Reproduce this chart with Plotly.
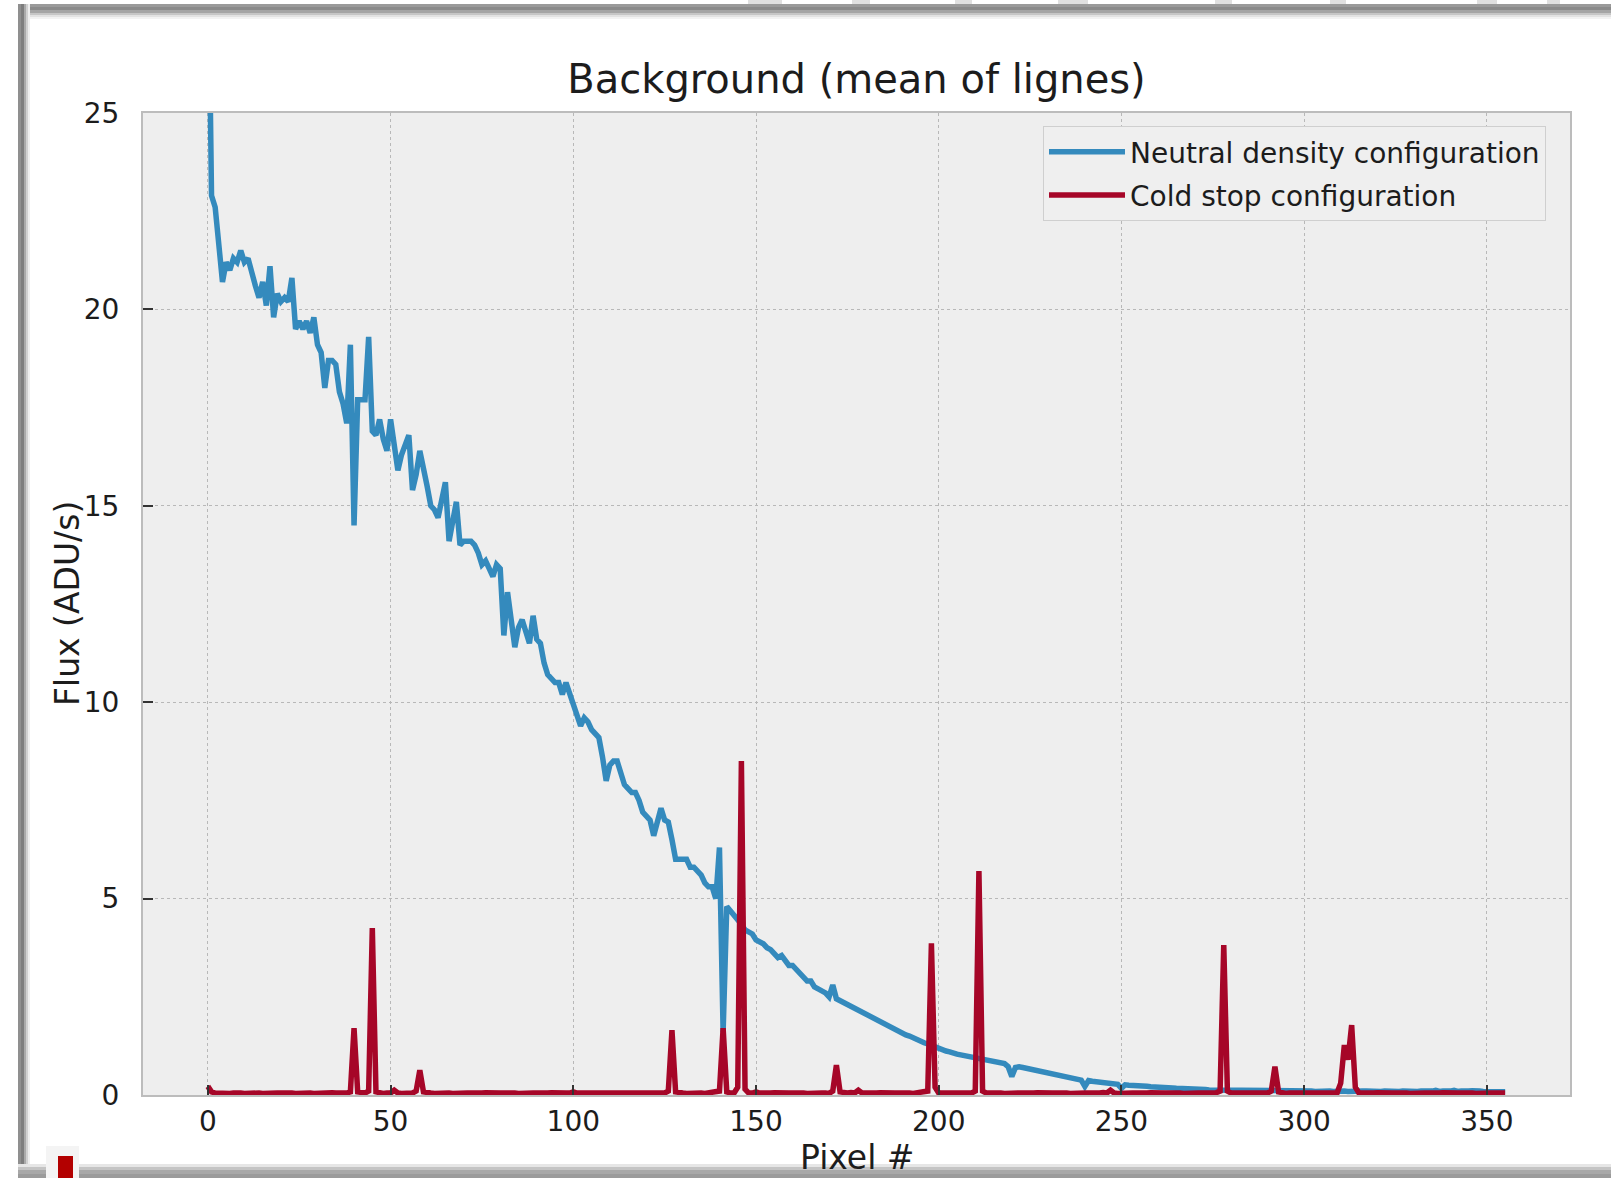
import plotly.graph_objects as go

# ---------------- data ----------------
neutral_density = [
    30.0, 22.9, 22.6, 21.6, 20.7, 21.2, 21.0, 21.3, 21.2, 21.5, 21.2, 21.3, 20.9, 20.6, 20.3, 20.7, 20.1, 21.1, 19.8, 20.4,
    20.2, 20.3, 20.2, 20.8, 19.5, 19.7, 19.5, 19.7, 19.4, 19.8, 19.1, 18.9, 18.0, 18.7, 18.7, 18.6, 17.9, 17.6, 17.1, 19.1,
    14.5, 17.7, 17.7, 17.7, 19.3, 16.9, 16.8, 17.2, 16.7, 16.4, 17.2, 16.6, 15.9, 16.3, 16.6, 16.8, 15.4, 15.8, 16.4, 16.0,
    15.5, 15.0, 14.9, 14.7, 15.1, 15.6, 14.1, 14.6, 15.1, 14.0, 14.1, 14.1, 14.1, 14.0, 13.8, 13.5, 13.6, 13.4, 13.2, 13.5,
    13.4, 11.7, 12.8, 12.1, 11.4, 11.9, 12.1, 11.8, 11.5, 12.2, 11.6, 11.5, 11.0, 10.7, 10.6, 10.5, 10.5, 10.2, 10.5, 10.2,
    10.0, 9.7, 9.4, 9.6, 9.5, 9.3, 9.2, 9.1, 8.6, 8.0, 8.4, 8.5, 8.5, 8.2, 7.9, 7.8, 7.7, 7.7, 7.5, 7.2,
    7.1, 7.0, 6.6, 6.9, 7.3, 7.0, 6.95, 6.5, 6.0, 6.0, 6.0, 6.0, 5.8, 5.8, 5.7, 5.6, 5.4, 5.3, 5.3, 5.0,
    6.3, 1.6, 4.8, 4.7, 4.55, 4.45, 4.35, 4.2, 4.15, 4.1, 3.95, 3.9, 3.85, 3.75, 3.7, 3.6, 3.5, 3.55, 3.4, 3.3,
    3.3, 3.2, 3.15, 3.0, 2.9, 2.9, 2.75, 2.7, 2.65, 2.6, 2.5, 2.8, 2.45, 2.4, 2.35, 2.3, 2.25, 2.2, 2.15, 2.1,
    2.05, 2.0, 1.95, 1.9, 1.85, 1.8, 1.75, 1.7, 1.67, 1.62, 1.58, 1.53, 1.5, 1.45, 1.4, 1.37, 1.33, 1.3, 1.26, 1.23,
    1.2, 1.17, 1.12, 1.1, 1.06, 1.04, 1.02, 1.0, 0.98, 0.96, 0.94, 0.92, 0.89, 0.87, 0.86, 0.84, 0.82, 0.81, 0.8, 0.72,
    0.47, 0.7, 0.72, 0.7, 0.68, 0.66, 0.64, 0.62, 0.6, 0.58, 0.57, 0.55, 0.53, 0.51, 0.5, 0.48, 0.46, 0.44, 0.42, 0.38,
    0.22, 0.37, 0.35, 0.34, 0.32, 0.31, 0.3, 0.29, 0.28, 0.27, 0.17, 0.26, 0.25, 0.25, 0.24, 0.23, 0.22, 0.22, 0.21, 0.21,
    0.2, 0.2, 0.19, 0.18, 0.18, 0.17, 0.17, 0.16, 0.16, 0.15, 0.15, 0.14, 0.14, 0.14, 0.13, 0.13, 0.13, 0.12, 0.12, 0.12,
    0.12, 0.11, 0.12, 0.11, 0.11, 0.12, 0.11, 0.1, 0.11, 0.11, 0.1, 0.11, 0.1, 0.11, 0.1, 0.1, 0.11, 0.1, 0.1, 0.1,
    0.11, 0.1, 0.1, 0.09, 0.1, 0.1, 0.11, 0.1, 0.09, 0.1, 0.1, 0.1, 0.09, 0.1, 0.1, 0.09, 0.1, 0.1, 0.09, 0.1,
    0.1, 0.09, 0.1, 0.09, 0.1, 0.1, 0.09, 0.1, 0.09, 0.09, 0.1, 0.09, 0.1, 0.09, 0.09, 0.1, 0.12, 0.09, 0.1, 0.09,
    0.1, 0.12, 0.09, 0.1, 0.09, 0.1, 0.11, 0.09, 0.1, 0.09, 0.09, 0.1, 0.09, 0.09, 0.08, 0.08,
]

cold_stop = [
    0.22, 0.08, 0.05, 0.04, 0.05, 0.05, 0.04, 0.05, 0.06, 0.05, 0.04, 0.05, 0.05, 0.06, 0.05, 0.04, 0.05, 0.05, 0.04, 0.05,
    0.05, 0.06, 0.05, 0.05, 0.04, 0.05, 0.05, 0.06, 0.05, 0.04, 0.05, 0.05, 0.04, 0.05, 0.06, 0.05, 0.04, 0.05, 0.05, 0.08,
    1.70, 0.08, 0.05, 0.05, 0.10, 4.25, 0.08, 0.05, 0.04, 0.05, 0.05, 0.12, 0.05, 0.04, 0.05, 0.05, 0.05, 0.10, 0.63, 0.08,
    0.05, 0.05, 0.04, 0.05, 0.06, 0.05, 0.05, 0.04, 0.05, 0.05, 0.06, 0.05, 0.05, 0.04, 0.05, 0.05, 0.06, 0.05, 0.05, 0.04,
    0.05, 0.05, 0.06, 0.05, 0.05, 0.04, 0.05, 0.05, 0.06, 0.05, 0.05, 0.04, 0.05, 0.05, 0.06, 0.05, 0.05, 0.04, 0.05, 0.05,
    0.08, 0.05, 0.05, 0.06, 0.05, 0.04, 0.05, 0.05, 0.06, 0.05, 0.05, 0.04, 0.05, 0.05, 0.06, 0.05, 0.04, 0.05, 0.05, 0.05,
    0.06, 0.05, 0.05, 0.04, 0.05, 0.05, 0.10, 1.65, 0.08, 0.05, 0.05, 0.04, 0.05, 0.06, 0.05, 0.05, 0.04, 0.05, 0.05, 0.06,
    0.10, 1.70, 0.08, 0.05, 0.05, 0.20, 8.50, 0.15, 0.05, 0.05, 0.08, 0.05, 0.04, 0.05, 0.05, 0.06, 0.05, 0.05, 0.04, 0.05,
    0.05, 0.06, 0.05, 0.05, 0.04, 0.05, 0.05, 0.06, 0.05, 0.05, 0.04, 0.10, 0.76, 0.08, 0.05, 0.05, 0.06, 0.05, 0.12, 0.05,
    0.05, 0.04, 0.05, 0.05, 0.06, 0.05, 0.05, 0.04, 0.05, 0.05, 0.06, 0.05, 0.05, 0.04, 0.05, 0.05, 0.06, 0.10, 3.86, 0.20,
    0.05, 0.05, 0.06, 0.05, 0.05, 0.04, 0.05, 0.05, 0.06, 0.05, 0.10, 5.70, 0.10, 0.05, 0.05, 0.06, 0.05, 0.05, 0.04, 0.05,
    0.05, 0.06, 0.05, 0.05, 0.04, 0.05, 0.05, 0.06, 0.05, 0.05, 0.04, 0.05, 0.05, 0.06, 0.05, 0.05, 0.04, 0.05, 0.05, 0.06,
    0.05, 0.05, 0.04, 0.05, 0.05, 0.06, 0.05, 0.12, 0.05, 0.04, 0.05, 0.05, 0.06, 0.05, 0.05, 0.04, 0.05, 0.05, 0.06, 0.05,
    0.05, 0.04, 0.05, 0.05, 0.06, 0.05, 0.05, 0.04, 0.05, 0.05, 0.06, 0.05, 0.05, 0.04, 0.05, 0.05, 0.06, 0.10, 3.82, 0.10,
    0.05, 0.05, 0.04, 0.05, 0.05, 0.06, 0.05, 0.05, 0.04, 0.05, 0.05, 0.10, 0.72, 0.08, 0.05, 0.04, 0.05, 0.05, 0.06, 0.05,
    0.05, 0.04, 0.05, 0.05, 0.06, 0.05, 0.05, 0.04, 0.05, 0.05, 0.30, 1.27, 0.90, 1.78, 0.20, 0.05, 0.05, 0.04, 0.05, 0.05,
    0.06, 0.05, 0.05, 0.04, 0.05, 0.05, 0.06, 0.05, 0.05, 0.04, 0.05, 0.05, 0.06, 0.05, 0.05, 0.04, 0.05, 0.05, 0.06, 0.05,
    0.05, 0.04, 0.05, 0.05, 0.06, 0.05, 0.05, 0.04, 0.05, 0.05, 0.06, 0.05, 0.05, 0.04, 0.05, 0.05,
]

pixels = list(range(len(neutral_density)))
x_ticks = [0, 50, 100, 150, 200, 250, 300, 350]
y_ticks = [0, 5, 10, 15, 20, 25]
series_names = ["Neutral density configuration", "Cold stop configuration"]

# ---------------- layout geometry ----------------
W, H = 1611, 1178
L, R, T, B = 143, 1570, 113, 1095
FONT = "DejaVu Sans"
TXT = "#1c1c1c"


def px(x):
    return (x - L) / (R - L)


def py(y):
    return (B - y) / (B - T)


def rect(x0, y0, x1, y1, color):
    return dict(type="rect", xref="paper", yref="paper",
                x0=px(x0), x1=px(x1), y0=py(y1), y1=py(y0),
                fillcolor=color, line=dict(width=0), layer="above")


fig = go.Figure()
fig.add_trace(go.Scatter(x=pixels, y=neutral_density, mode="lines",
                         name=series_names[0], legendgroup="nd",
                         line=dict(color="#348ABD", width=5.5)))
fig.add_trace(go.Scatter(x=pixels, y=cold_stop, mode="lines",
                         name=series_names[1], legendgroup="cs",
                         line=dict(color="#A60628", width=5.5)))

shapes = []
# screenshot frame: top band (gradient)
for (y0, y1, c) in [(4, 7, "#9a9a9a"), (7, 10, "#8a8a8a"), (10, 13, "#a5a5a5"),
                    (13, 15, "#c6c6c6"), (15, 17, "#e2e2e2"), (17, 19, "#f3f3f3")]:
    shapes.append(rect(18, y0, W, y1, c))
# faint stripes above the top band
for (x0, x1) in [(748, 782), (852, 870), (955, 972), (1058, 1088), (1215, 1232),
                 (1330, 1346), (1477, 1497), (1547, 1560)]:
    shapes.append(rect(x0, 0, x1, 4, "#e0e0e0"))
# left band (gradient)
for (x0, x1, c) in [(18, 21, "#8f8f8f"), (21, 24, "#7d7d7d"), (24, 26, "#a9a9a9"),
                    (26, 28, "#d0d0d0"), (28, 30, "#eeeeee")]:
    shapes.append(rect(x0, 4, x1, H, c))
# bottom band (gradient)
for (y0, y1, c) in [(1164, 1167, "#e6e6e6"), (1167, 1170, "#c4c4c4"),
                    (1170, 1174, "#a8a8a8"), (1174, H, "#9b9b9b")]:
    shapes.append(rect(18, y0, W, y1, c))
# small red logo bottom-left
shapes.append(rect(46, 1146, 79, H, "#f4f4f4"))
shapes.append(rect(58, 1156, 73, H, "#b30000"))

annotations = [
    dict(text="Pixel #", xref="paper", yref="paper", x=0.5, y=py(1157),
         xanchor="center", yanchor="middle", showarrow=False,
         font=dict(family=FONT, size=33, color=TXT)),
    dict(text="Flux (ADU/s)", xref="paper", yref="paper", x=px(67), y=0.5,
         xanchor="center", yanchor="middle", showarrow=False, textangle=-90,
         font=dict(family=FONT, size=33, color=TXT)),
]

axis_common = dict(
    showgrid=True, gridcolor="#b8b8b8", griddash="dot", gridwidth=1,
    showline=True, linecolor="#bcbcbc", linewidth=2, mirror=True,
    ticks="inside", ticklen=10, tickwidth=2, tickcolor="#333333",
    tickfont=dict(family=FONT, size=28, color=TXT),
    zeroline=False,
)

fig.update_layout(
    width=W, height=H, autosize=False,
    margin=dict(l=L, r=W - R, t=T, b=H - B, pad=0),
    paper_bgcolor="#ffffff", plot_bgcolor="#eeeeee",
    title=dict(text="Background (mean of lignes)", x=0.5, xref="paper",
               y=1 - 79 / H, yref="container", xanchor="center", yanchor="middle",
               font=dict(family=FONT, size=40, color=TXT)),
    xaxis=dict(range=[-17.75, 372.75], tickvals=x_ticks,
               ticklabelstandoff=0, **axis_common),
    yaxis=dict(range=[0, 25], tickvals=y_ticks,
               ticklabelstandoff=16, **axis_common),
    legend=dict(x=px(1043), y=py(126), xanchor="left", yanchor="top",
                bgcolor="#efefef", bordercolor="#cfcfcf", borderwidth=1,
                itemwidth=76, tracegroupgap=4,
                font=dict(family=FONT, size=28, color=TXT)),
    showlegend=True,
    shapes=shapes,
    annotations=annotations,
)

fig.write_html("out.html", config={"displayModeBar": False},
               post_script="document.body.style.margin='0';")
